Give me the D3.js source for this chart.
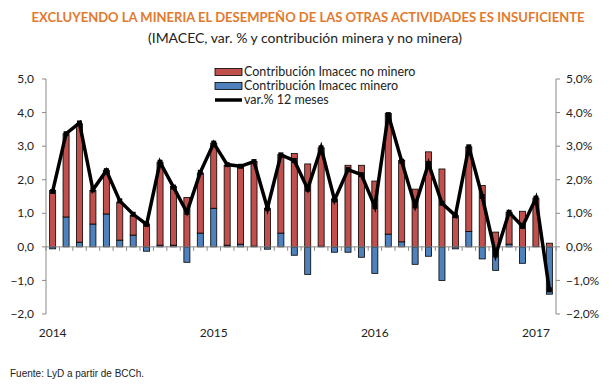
<!DOCTYPE html>
<html>
<head>
<meta charset="utf-8">
<script src="https://cdn.jsdelivr.net/npm/d3@7"></script>
<style>
  body { margin: 0; background: #fff; }
  svg { display: block; }
  text { font-family: Lato, "Open Sans", sans-serif; fill: #222; }
</style>
</head>
<body>
<svg id="chart" width="612" height="390"></svg>
<script>

// meses ene-2014 .. feb-2017
const months = d3.range(38).map(i => new Date(2014, i, 1));

const noMinero = [1.68, 2.48, 3.53, 1.00, 1.30, 1.13, 0.59, 0.68, 2.47, 1.75, 1.47, 1.79,
                  1.94, 2.38, 2.29, 2.52, 1.15, 2.34, 2.78, 2.47, 2.93, 1.43, 2.43, 2.43,
                  1.96, 3.59, 2.42, 1.72, 2.83, 2.32, 0.93, 2.52, 1.83, 0.44, 0.95, 1.06,
                  1.44, 0.11];

const minero = [-0.06, 0.89, 0.14, 0.68, 0.98, 0.20, 0.35, -0.13, 0.05, 0.05, -0.46, 0.41,
                1.15, 0.05, 0.08, 0.02, -0.07, 0.41, -0.25, -0.82, 0.02, -0.16, -0.16, -0.31,
                -0.79, 0.38, 0.15, -0.52, -0.28, -1.00, -0.06, 0.46, -0.36, -0.70, 0.08, -0.49,
                0.01, -1.41];

const var12 = [1.65, 3.37, 3.69, 1.70, 2.27, 1.37, 0.97, 0.67, 2.52, 1.78, 1.03, 2.22,
               3.09, 2.45, 2.40, 2.54, 1.15, 2.74, 2.57, 1.72, 2.95, 1.40, 2.30, 2.15,
               1.20, 3.94, 2.55, 1.22, 2.48, 1.30, 0.93, 2.98, 1.50, -0.24, 1.03, 0.61,
               1.45, -1.28];

const yTicks = [-2, -1, 0, 1, 2, 3, 4, 5];
const yearLabels = [2014, 2015, 2016, 2017];

const legendItems = [
  { label: "Contribución Imacec no minero", type: "box", color: "#C0504D" },
  { label: "Contribución Imacec minero", type: "box", color: "#4F81BD" },
  { label: "var.% 12 meses", type: "line", color: "#000" }
];

const red = "#C0504D", blue = "#4F81BD", axisGrey = "#8a8a8a";
const comma = d3.format(".1f");
const fmt = v => comma(v).replace(".", ",");

let svg = d3.select("#chart");

let x = d3.scaleBand()
  .domain(d3.range(months.length))
  .range([46, 556])
  .paddingInner(0.55)
  .paddingOuter(0.27);

let y = d3.scaleLinear()
  .domain([-2, 5])
  .range([314, 79]);

// titulos
svg.append("text")
  .attr("x", 308).attr("y", 22)
  .attr("text-anchor", "middle")
  .attr("textLength", 553).attr("lengthAdjust", "spacingAndGlyphs")
  .style("font-weight", "bold").style("font-size", "13px")
  .style("fill", "#E27A2E")
  .text("EXCLUYENDO LA MINERIA EL DESEMPEÑO DE LAS OTRAS ACTIVIDADES ES INSUFICIENTE");

svg.append("text")
  .attr("x", 305).attr("y", 43)
  .attr("text-anchor", "middle")
  .attr("textLength", 314).attr("lengthAdjust", "spacingAndGlyphs")
  .style("font-size", "13px")
  .text("(IMACEC, var. % y contribución minera y no minera)");

// barras apiladas
let rows = months.map((m, i) => ({ i: i, nm: noMinero[i], mi: minero[i] }));

let bars = svg.append("g").classed("bars", true);

bars.selectAll("rect.minero")
  .data(rows)
  .enter().append("rect")
  .classed("minero", true)
  .attr("x", d => x(d.i))
  .attr("width", x.bandwidth())
  .attr("y", d => y(Math.max(0, d.mi)))
  .attr("height", d => Math.abs(y(d.mi) - y(0)))
  .attr("fill", blue)
  .attr("stroke", "#000").attr("stroke-width", 0.8);

bars.selectAll("rect.nominero")
  .data(rows)
  .enter().append("rect")
  .classed("nominero", true)
  .attr("x", d => x(d.i))
  .attr("width", x.bandwidth())
  .attr("y", d => y(Math.max(0, d.mi) + d.nm))
  .attr("height", d => y(Math.max(0, d.mi)) - y(Math.max(0, d.mi) + d.nm))
  .attr("fill", red)
  .attr("stroke", "#000").attr("stroke-width", 0.8);

// ejes
let left = svg.append("g").attr("transform", "translate(46,0)");
left.append("line")
  .attr("y1", y(5)).attr("y2", y(-2))
  .attr("stroke", axisGrey);
left.selectAll("line.tick")
  .data(yTicks)
  .enter().append("line")
  .attr("x1", -4).attr("x2", 0)
  .attr("y1", d => y(d)).attr("y2", d => y(d))
  .attr("stroke", axisGrey);
left.selectAll("text")
  .data(yTicks)
  .enter().append("text")
  .attr("x", -12).attr("y", d => y(d))
  .attr("dy", "0.35em")
  .attr("text-anchor", "end")
  .style("font-size", "12px")
  .text(d => fmt(d));

let right = svg.append("g").attr("transform", "translate(556,0)");
right.append("line")
  .attr("y1", y(5)).attr("y2", y(-2))
  .attr("stroke", axisGrey);
right.selectAll("line.tick")
  .data(yTicks)
  .enter().append("line")
  .attr("x1", 0).attr("x2", 4)
  .attr("y1", d => y(d)).attr("y2", d => y(d))
  .attr("stroke", axisGrey);
right.selectAll("text")
  .data(yTicks)
  .enter().append("text")
  .attr("x", 10).attr("y", d => y(d))
  .attr("dy", "0.35em")
  .style("font-size", "12px")
  .text(d => fmt(d) + "%");

// eje x en cero
let step = x.step();
let bottom = svg.append("g");
bottom.append("line")
  .attr("x1", 46).attr("x2", 556)
  .attr("y1", y(0)).attr("y2", y(0))
  .attr("stroke", axisGrey);
bottom.selectAll("line.tick")
  .data(d3.range(months.length + 1))
  .enter().append("line")
  .attr("x1", i => 46 + i * step).attr("x2", i => 46 + i * step)
  .attr("y1", y(0)).attr("y2", y(0) + 4)
  .attr("stroke", axisGrey);
bottom.selectAll("text")
  .data(yearLabels)
  .enter().append("text")
  .attr("x", yr => x((yr - 2014) * 12) + x.bandwidth() / 2)
  .attr("y", 337)
  .attr("text-anchor", "middle")
  .style("font-size", "12px")
  .text(yr => yr);

// linea var. 12 meses
let line = d3.line()
  .x((d, i) => x(i) + x.bandwidth() / 2)
  .y(d => y(d));

svg.append("path")
  .datum(var12)
  .attr("d", line)
  .attr("fill", "none")
  .attr("stroke", "#000")
  .attr("stroke-width", 3.5)
  .attr("stroke-linejoin", "miter");

svg.append("g").selectAll("rect")
  .data(var12)
  .enter().append("rect")
  .attr("x", (d, i) => x(i) + x.bandwidth() / 2 - 2.5)
  .attr("y", d => y(d) - 2.5)
  .attr("width", 5).attr("height", 5)
  .attr("fill", "#000");

// leyenda
let legend = svg.append("g").attr("transform", "translate(215,72)");
let item = legend.selectAll("g")
  .data(legendItems)
  .enter().append("g")
  .attr("transform", (d, i) => `translate(0,${i * 14})`);

item.filter(d => d.type === "box").append("rect")
  .attr("x", 0).attr("y", -3.5)
  .attr("width", 27).attr("height", 7)
  .attr("fill", d => d.color)
  .attr("stroke", "#000").attr("stroke-width", 0.8);

item.filter(d => d.type === "line").append("line")
  .attr("x1", 0).attr("x2", 27)
  .attr("stroke", "#000").attr("stroke-width", 3.5);

item.append("text")
  .attr("x", 29).attr("dy", "0.35em")
  .style("font-size", "12.5px")
  .text(d => d.label);

// fuente
svg.append("text")
  .attr("x", 10).attr("y", 377)
  .style("font-family", "'Liberation Sans', Arial, sans-serif")
  .style("font-size", "10px")
  .text("Fuente: LyD a partir de BCCh.");

</script>
</body>
</html>
